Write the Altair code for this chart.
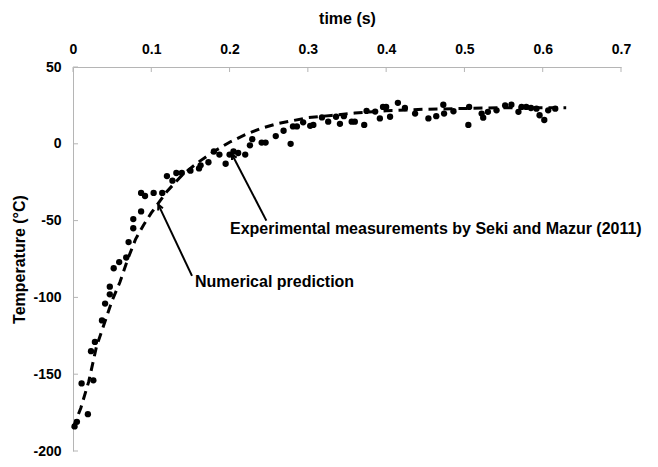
import math
import altair as alt
import pandas as pd

# ---------------- data ----------------
exp_t = [0.002, 0.005, 0.011, 0.019, 0.023, 0.026, 0.028, 0.037, 0.041, 0.047,
         0.047, 0.052, 0.059, 0.068, 0.071, 0.077, 0.077, 0.087, 0.087, 0.092,
         0.103, 0.114, 0.120, 0.127, 0.132, 0.139, 0.150, 0.161, 0.163, 0.173,
         0.180, 0.187, 0.195, 0.200, 0.205, 0.211, 0.220, 0.226, 0.229, 0.241,
         0.246, 0.259, 0.269, 0.278, 0.281, 0.286, 0.294, 0.303, 0.307, 0.318,
         0.326, 0.336, 0.341, 0.346, 0.356, 0.360, 0.372, 0.375, 0.386, 0.392,
         0.396, 0.400, 0.405, 0.415, 0.424, 0.437, 0.454, 0.464, 0.473, 0.474,
         0.486, 0.505, 0.506, 0.522, 0.524, 0.530, 0.541, 0.552, 0.560, 0.569,
         0.573, 0.579, 0.585, 0.592, 0.596, 0.602, 0.607, 0.616]
exp_T = [-184, -181, -156, -176, -135, -154, -129, -115, -104, -98,
         -93, -81, -77, -74, -64, -55, -49, -44, -32, -34,
         -32, -32, -21, -24, -19, -19, -17.5, -16, -14, -12,
         -5, -7, -13, -7, -5, -6, -7, -1, 3, 0.8,
         0.8, 5, 8.5, 0, 11.3, 11.3, 14, 11.7, 12.3, 17.2,
         14.4, 17.6, 13, 18, 14.4, 14.4, 12.3, 21.4, 21, 16.5,
         24, 24, 17.6, 26.7, 23.3, 19.7, 16.5, 18, 25.4, 19.7,
         21.2, 12.3, 24, 19.7, 17, 20.8, 21.8, 25, 25.4, 20.8,
         24, 24, 23.3, 22.9, 18.6, 15.5, 21.8, 22.9]

num_t = [0.0, 0.01, 0.02, 0.03, 0.04, 0.05, 0.06, 0.07, 0.08, 0.09, 0.10,
         0.11, 0.12, 0.14, 0.16, 0.18, 0.20, 0.22, 0.24, 0.26, 0.28, 0.30,
         0.33, 0.36, 0.40, 0.45, 0.50, 0.55, 0.60, 0.63]
num_T = [-185, -172, -155, -132, -117, -102, -90, -75, -62, -53, -45,
         -38, -31, -20, -12, -5, 1, 6, 10, 13, 15, 17,
         18.5, 20, 21.5, 22.5, 23, 23.5, 23.5, 23.5]

x_ticks = [0, 0.1, 0.2, 0.3, 0.4, 0.5, 0.6, 0.7]
y_ticks = [50, 0, -50, -100, -150, -200]

ann_text = ["Numerical prediction",
            "Experimental measurements by Seki and Mazur (2011)"]
ann_t = [0.1558, 0.2005]
ann_T = [-89.7, -55.3]
arrow_t0 = [0.152, 0.247]
arrow_T0 = [-86, -50]
arrow_t1 = [0.109, 0.203]
arrow_T1 = [-39.6, -6.8]

# ---------------- layout ----------------
W, H = 548, 384
X_DOM = [0, 0.7]
Y_DOM = [-200, 50]
FONT = "Liberation Sans"
AXIS_GRAY = "#b5b5b5"

exp_df = pd.DataFrame({"t": exp_t, "T": exp_T})
num_df = pd.DataFrame({"t": num_t, "T": num_T})
xt_df = pd.DataFrame({"t": x_ticks})
yt_df = pd.DataFrame({"T": y_ticks})
ann_df = pd.DataFrame({"t": ann_t, "T": ann_T, "label": ann_text})

angles = []
for a0, b0, a1, b1 in zip(arrow_t0, arrow_T0, arrow_t1, arrow_T1):
    dx = (a1 - a0) / (X_DOM[1] - X_DOM[0]) * W
    dy = -(b1 - b0) / (Y_DOM[1] - Y_DOM[0]) * H
    ang = math.degrees(math.atan2(dx, -dy)) % 360
    angles.append(ang)
arr_df = pd.DataFrame({"t": arrow_t0, "T": arrow_T0, "t2": arrow_t1,
                       "T2": arrow_T1, "ang": angles})

xs = alt.Scale(domain=X_DOM, nice=False, zero=False)
ys = alt.Scale(domain=Y_DOM, nice=False, zero=False)

xaxis = alt.Axis(orient="top", values=x_ticks, format=".1~f", title="time (s)",
                 grid=False, ticks=False, tickSize=0, labelPadding=11,
                 titlePadding=16, domainColor=AXIS_GRAY, labelFlush=False)
yaxis = alt.Axis(orient="left", values=y_ticks, labelExpr="'' + datum.value",
                 title="Temperature (°C)", grid=False, ticks=False, tickSize=0,
                 labelPadding=12, titlePadding=5, domainColor=AXIS_GRAY)

X = alt.X("t:Q", scale=xs, axis=xaxis)
Y = alt.Y("T:Q", scale=ys, axis=yaxis)

line = alt.Chart(num_df).mark_line(
    color="black", strokeWidth=3, strokeDash=[9, 6], strokeCap="butt"
).encode(x=X, y=Y)

pts = alt.Chart(exp_df).mark_circle(size=40, color="black", opacity=1).encode(x=X, y=Y)

xticks = alt.Chart(xt_df).mark_rule(color=AXIS_GRAY, strokeWidth=1).encode(
    x=X, y=alt.value(0), y2=alt.value(5))
yticks = alt.Chart(yt_df).mark_rule(color=AXIS_GRAY, strokeWidth=1).encode(
    y=Y, x=alt.value(0), x2=alt.value(5))

arrows = alt.Chart(arr_df).mark_rule(color="black", strokeWidth=2).encode(
    x=X, y=Y, x2="t2:Q", y2="T2:Q")
heads = alt.Chart(arr_df).mark_point(
    shape="M-0.55,1.1L0,0L0.55,1.1", size=90, filled=False,
    color="black", strokeWidth=2, opacity=1
).encode(x=alt.X("t2:Q", scale=xs, axis=xaxis), y=alt.Y("T2:Q", scale=ys, axis=yaxis),
         angle=alt.Angle("ang:Q", scale=None))

texts = alt.Chart(ann_df).mark_text(
    align="left", baseline="middle", font=FONT, fontSize=16, fontWeight="bold",
    color="black"
).encode(x=X, y=Y, text="label:N")

chart = alt.layer(line, pts, xticks, yticks, arrows, heads, texts).properties(
    width=W, height=H,
    autosize=alt.AutoSizeParams(type="none"),
    padding={"left": 65, "top": 59, "right": 29, "bottom": 8},
    background="white",
).configure_view(stroke=None).configure_axis(
    labelFont=FONT, labelFontSize=14, labelFontWeight="bold", labelColor="black",
    titleFont=FONT, titleFontSize=16, titleFontWeight="bold", titleColor="black",
)

chart.save("out.html", embed_options={"renderer": "svg", "actions": False})
